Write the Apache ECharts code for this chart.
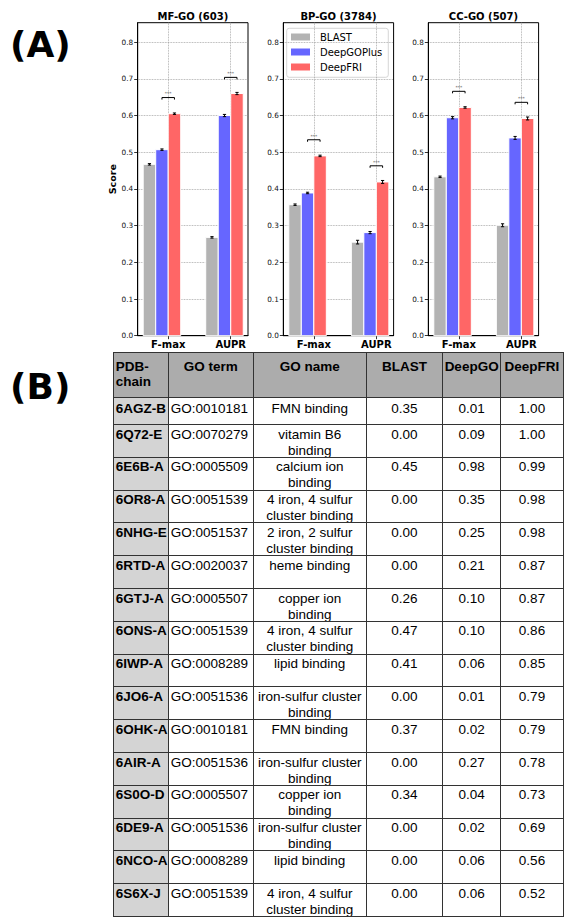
<!DOCTYPE html>
<html>
<head>
<meta charset="utf-8">
<script src="https://cdn.jsdelivr.net/npm/echarts@6/dist/echarts.min.js"></script>
<style>
  html, body { margin: 0; padding: 0; background: #fff; }
  #page { position: relative; width: 565px; height: 917px; overflow: hidden; background: #fff; }
  #chart { position: absolute; left: 0; top: 0; width: 565px; height: 350px; }
  .panel-tag { position: absolute; font-family: 'DejaVu Sans', sans-serif; font-weight: bold;
               font-size: 36px; line-height: 36px; color: #000; white-space: nowrap; }
  .cell { position: absolute; box-sizing: border-box; border: 1px solid #333;
          font-family: 'Liberation Sans', Arial, sans-serif; font-size: 13.5px; line-height: 16px;
          color: #000; white-space: pre; overflow: hidden; }
</style>
</head>
<body>
<div id="page">
  <div class="panel-tag" style="left:10px; top:27px;">(A)</div>
  <div class="panel-tag" style="left:10px; top:369px;">(B)</div>
  <div id="chart"></div>
  <div id="table"></div>
</div>
<script>
// ---- Panel A data: [F-max, AUPR] per ontology ----
const categories = ['F-max', 'AUPR'];
const methods = ['BLAST', 'DeepGOPlus', 'DeepFRI'];
const ontologies = ['MF-GO (603)', 'BP-GO (3784)', 'CC-GO (507)'];
const yTickValues = [0, 0.1, 0.2, 0.3, 0.4, 0.5, 0.6, 0.7, 0.8];

const blastScore   = [[0.467, 0.268], [0.357, 0.255], [0.433, 0.301]];
const deepgoScore  = [[0.507, 0.600], [0.389, 0.281], [0.594, 0.539]];
const deepfriScore = [[0.605, 0.660], [0.490, 0.419], [0.622, 0.592]];

const blastErr   = [[0.002, 0.002], [0.002, 0.005], [0.002, 0.004]];
const deepgoErr  = [[0.002, 0.003], [0.002, 0.003], [0.003, 0.004]];
const deepfriErr = [[0.002, 0.003], [0.002, 0.004], [0.002, 0.004]];

// ---- Panel B data: per-chain scores ----
const tableHeader = ['PDB-\nchain', 'GO term', 'GO name', 'BLAST', 'DeepGO', 'DeepFRI'];
const pdbChains = ['6AGZ-B', '6Q72-E', '6E6B-A', '6OR8-A', '6NHG-E', '6RTD-A', '6GTJ-A', '6ONS-A',
                   '6IWP-A', '6JO6-A', '6OHK-A', '6AIR-A', '6S0O-D', '6DE9-A', '6NCO-A', '6S6X-J'];
const goTerms = ['GO:0010181', 'GO:0070279', 'GO:0005509', 'GO:0051539', 'GO:0051537', 'GO:0020037',
                 'GO:0005507', 'GO:0051539', 'GO:0008289', 'GO:0051536', 'GO:0010181', 'GO:0051536',
                 'GO:0005507', 'GO:0051536', 'GO:0008289', 'GO:0051539'];
const goNames = ['FMN binding', 'vitamin B6\nbinding', 'calcium ion\nbinding', '4 iron, 4 sulfur\ncluster binding',
                 '2 iron, 2 sulfur\ncluster binding', 'heme binding', 'copper ion\nbinding',
                 '4 iron, 4 sulfur\ncluster binding', 'lipid binding', 'iron-sulfur cluster\nbinding',
                 'FMN binding', 'iron-sulfur cluster\nbinding', 'copper ion\nbinding',
                 'iron-sulfur cluster\nbinding', 'lipid binding', '4 iron, 4 sulfur\ncluster binding'];
const blastCol   = ['0.35', '0.00', '0.45', '0.00', '0.00', '0.00', '0.26', '0.47',
                    '0.41', '0.00', '0.37', '0.00', '0.34', '0.00', '0.00', '0.00'];
const deepgoCol  = ['0.01', '0.09', '0.98', '0.35', '0.25', '0.21', '0.10', '0.10',
                    '0.06', '0.01', '0.02', '0.27', '0.04', '0.02', '0.06', '0.06'];
const deepfriCol = ['1.00', '1.00', '0.99', '0.98', '0.98', '0.87', '0.87', '0.86',
                    '0.85', '0.79', '0.79', '0.78', '0.73', '0.69', '0.56', '0.52'];

// ---- layout ----
const GRID_LEFT = [137.7, 283.3, 428.3];
const GRID_W = 110.3;
const GRID_TOP = 22.7;
const GRID_H = 313;
const Y_MAX = 0.853;
const X_MIN = -0.488, X_MAX = 1.276;
const BAR_W = 0.2;
const OFFSETS = [-0.3, -0.1, 0.1];
const COLORS = ['#b3b3b3', '#6666ff', '#ff6666'];
const BRACKET_GAP = 0.044;
const FONT = 'DejaVu Sans';

const scores = [blastScore, deepgoScore, deepfriScore];
const errors = [blastErr, deepgoErr, deepfriErr];

function barRenderer(m) {
  return function (params, api) {
    const x = api.value(0) + OFFSETS[m];
    const v = api.value(1), e = api.value(2);
    const tl = api.coord([x - BAR_W / 2, v]);
    const br = api.coord([x + BAR_W / 2, 0]);
    const hi = api.coord([x, v + e]);
    const lo = api.coord([x, v - e]);
    const cap = 1.6;
    const ink = { stroke: '#000', lineWidth: 1 };
    return {
      type: 'group',
      children: [
        { type: 'rect', shape: { x: tl[0], y: tl[1], width: br[0] - tl[0], height: br[1] - tl[1] },
          style: { fill: COLORS[m], stroke: '#fff', lineWidth: 1 } },
        { type: 'line', shape: { x1: hi[0], y1: hi[1], x2: lo[0], y2: lo[1] }, style: ink },
        { type: 'line', shape: { x1: hi[0] - cap, y1: hi[1], x2: hi[0] + cap, y2: hi[1] }, style: ink },
        { type: 'line', shape: { x1: lo[0] - cap, y1: lo[1], x2: lo[0] + cap, y2: lo[1] }, style: ink }
      ]
    };
  };
}

function bracketRenderer(params, api) {
  const i = api.value(0);
  const top = Math.max(api.value(1), api.value(2)) + BRACKET_GAP;
  const a = api.coord([i + OFFSETS[1], top]);
  const b = api.coord([i + OFFSETS[2], top]);
  const drop = 2;
  return {
    type: 'group',
    children: [
      { type: 'polyline',
        shape: { points: [[a[0], a[1] + drop], [a[0], a[1]], [b[0], b[1]], [b[0], b[1] + drop]] },
        style: { stroke: '#000', lineWidth: 1, fill: null } },
      { type: 'text', x: (a[0] + b[0]) / 2, y: a[1] - 1.2,
        style: { text: '***', fontSize: 4.5, fontFamily: FONT, fill: '#666',
                 align: 'center', verticalAlign: 'bottom' } }
    ]
  };
}

const grids = [], xAxes = [], yAxes = [], series = [], graphics = [];
ontologies.forEach(function (name, p) {
  grids.push({ left: GRID_LEFT[p], top: GRID_TOP, width: GRID_W, height: GRID_H,
               show: true, borderColor: '#000', borderWidth: 1, containLabel: false });
  xAxes.push({
    type: 'value', gridIndex: p, min: X_MIN, max: X_MAX,
    axisLine: { show: true, onZero: false, lineStyle: { color: '#000', width: 1 } },
    axisTick: { show: true, customValues: [0, 1], length: 3.5, lineStyle: { color: '#000', width: 0.8 } },
    axisLabel: { customValues: [0, 1], formatter: function (v) { return categories[Math.round(v)]; },
                 fontFamily: FONT, fontSize: 10, fontWeight: 'bold', color: '#000', margin: 4 },
    splitLine: { show: true, lineStyle: { type: 'dotted', color: '#9a9a9a', width: 0.8 } }
  });
  yAxes.push({
    type: 'value', gridIndex: p, min: 0, max: Y_MAX,
    name: p === 0 ? 'Score' : '', nameLocation: 'middle', nameGap: 20,
    nameTextStyle: { fontFamily: FONT, fontSize: 9.5, fontWeight: 'bold', color: '#000' },
    axisLine: { show: true, onZero: false, lineStyle: { color: '#000', width: 1 } },
    axisTick: { show: true, customValues: yTickValues, length: 3.5, lineStyle: { color: '#000', width: 0.8 } },
    axisLabel: { customValues: yTickValues, formatter: function (v) { return v.toFixed(1); },
                 fontFamily: FONT, fontSize: 7.3, color: '#111', margin: 4.5 },
    splitLine: { show: true, lineStyle: { type: 'dotted', color: '#9a9a9a', width: 0.8 } }
  });
  methods.forEach(function (method, m) {
    series.push({
      name: method, type: 'custom', xAxisIndex: p, yAxisIndex: p,
      itemStyle: { color: COLORS[m] },
      encode: { x: 0, y: 1 },
      data: categories.map(function (c, i) { return [i, scores[m][p][i], errors[m][p][i]]; }),
      renderItem: barRenderer(m)
    });
  });
  series.push({
    name: 'significance', type: 'custom', xAxisIndex: p, yAxisIndex: p, silent: true, z: 3,
    encode: { x: 0, y: 2 },
    data: categories.map(function (c, i) { return [i, deepgoScore[p][i], deepfriScore[p][i]]; }),
    renderItem: bracketRenderer
  });
  graphics.push({
    type: 'text', x: GRID_LEFT[p] + GRID_W / 2, y: 16,
    style: { text: name, fontFamily: FONT, fontSize: 10, fontWeight: 'bold', fill: '#000',
             align: 'center', verticalAlign: 'middle' }
  });
});

// legend box inside the BP-GO panel
const LEG = { x: 286.7, y: 28.3, w: 101.6, h: 49, row: 15, first: 37, patchX: 291, patchW: 19, patchH: 7, textX: 320 };
const legendChildren = [{
  type: 'rect', shape: { x: LEG.x, y: LEG.y, width: LEG.w, height: LEG.h, r: 2.5 },
  style: { fill: '#fff', stroke: '#cccccc', lineWidth: 0.8 }
}];
methods.forEach(function (method, m) {
  const cy = LEG.first + m * LEG.row;
  legendChildren.push({
    type: 'rect', shape: { x: LEG.patchX, y: cy - LEG.patchH / 2, width: LEG.patchW, height: LEG.patchH },
    style: { fill: COLORS[m] }
  });
  legendChildren.push({
    type: 'text', x: LEG.textX, y: cy,
    style: { text: method, fontFamily: FONT, fontSize: 10, fill: '#000', align: 'left', verticalAlign: 'middle' }
  });
});
graphics.push({ type: 'group', z: 10, children: legendChildren });

const chart = echarts.init(document.getElementById('chart'), null, { renderer: 'svg' });
chart.setOption({
  animation: false,
  textStyle: { fontFamily: FONT },
  grid: grids,
  xAxis: xAxes,
  yAxis: yAxes,
  graphic: graphics,
  series: series
});

// ---- Panel B table ----
const COL_X = [112.7, 167.7, 252.7, 365.7, 442.3, 500, 563];
const HEAD_TOP = 352, HEAD_H = 45;
const FIRST_ROW_H = 27, ROW_H = 32.8;
const table = document.getElementById('table');

function rowTop(r) {
  return r === 0 ? HEAD_TOP + HEAD_H : HEAD_TOP + HEAD_H + FIRST_ROW_H + (r - 1) * ROW_H;
}
function rowHeight(r) { return r === 0 ? FIRST_ROW_H : ROW_H; }

function addCell(text, col, top, height, opts) {
  const d = document.createElement('div');
  d.className = 'cell';
  d.textContent = text;
  d.style.left = COL_X[col] + 'px';
  d.style.top = top + 'px';
  d.style.width = (COL_X[col + 1] - COL_X[col] + 1) + 'px';
  d.style.height = (height + 1) + 'px';
  d.style.textAlign = opts.align;
  d.style.paddingTop = opts.padTop + 'px';
  d.style.paddingLeft = (opts.align === 'left' ? 2 : 0) + 'px';
  if (opts.lineHeight) d.style.lineHeight = opts.lineHeight + 'px';
  if (opts.bg) d.style.background = opts.bg;
  if (opts.bold) d.style.fontWeight = 'bold';
  table.appendChild(d);
}

tableHeader.forEach(function (h, c) {
  addCell(h, c, HEAD_TOP, HEAD_H, { align: c === 0 ? 'left' : 'center', padTop: 5.5, lineHeight: 15,
                                    bg: '#acacac', bold: true });
});
const bodyCols = [pdbChains, goTerms, goNames, blastCol, deepgoCol, deepfriCol];
pdbChains.forEach(function (pdb, r) {
  bodyCols.forEach(function (col, c) {
    addCell(col[r], c, rowTop(r), rowHeight(r), {
      align: c < 2 ? 'left' : 'center', padTop: r === 0 ? 3 : 1.5,
      bg: c === 0 ? '#d4d4d4' : '#fff', bold: c === 0
    });
  });
});
</script>
</body>
</html>
